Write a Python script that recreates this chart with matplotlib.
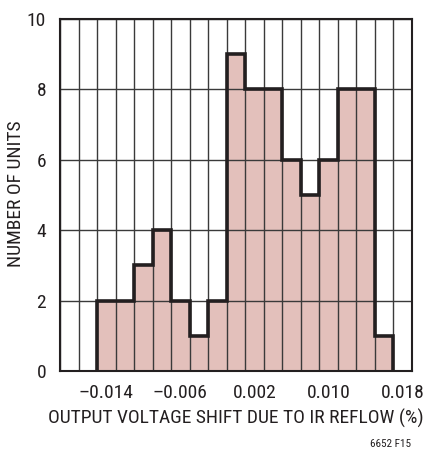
import matplotlib
matplotlib.use("Agg")
import matplotlib.pyplot as plt
import numpy as np
from matplotlib import font_manager

names = {f.name for f in font_manager.fontManager.ttflist}
cands = ["Roboto Condensed", "Liberation Sans Narrow", "Archivo Narrow", "PT Sans Narrow", "Liberation Sans"]
fams = [c for c in cands if c in names] + ["DejaVu Sans"]
plt.rcParams['font.family'] = fams

bin_centers = [-0.018, -0.016, -0.014, -0.012, -0.010, -0.008, -0.006, -0.004, -0.002,
               0.000, 0.002, 0.004, 0.006, 0.008, 0.010, 0.012, 0.014, 0.016, 0.018]
counts = [0, 0, 2, 2, 3, 4, 2, 1, 2, 9, 8, 8, 6, 5, 6, 8, 8, 1, 0]
xtick_values = [-0.014, -0.006, 0.002, 0.010, 0.018]
xtick_labels = ["\u20130.014", "\u20130.006", "0.002", "0.010", "0.018"]
ytick_values = [0, 2, 4, 6, 8, 10]

W = 0.002
ink = "#231f20"
fig = plt.figure(figsize=(4.24, 4.49), dpi=100)
ax = fig.add_axes([60/424, 78/449, 352/424, 352/449])

centers = np.array(bin_centers)
cnt = np.array(counts)
ax.bar(centers, cnt, width=W, color="#e3c0bb", edgecolor="none", zorder=1)

edges = np.concatenate([centers - W/2, [centers[-1] + W/2]])
for c in edges:
    ax.axvline(c, color="#3a3a3a", lw=1.0, zorder=2)
for y in ytick_values:
    ax.axhline(y, color="#3a3a3a", lw=1.0, zorder=2)

nz = np.nonzero(cnt)[0]
i0, i1 = nz[0], nz[-1]
xs = [edges[i0]]
ys = [0]
for i in range(i0, i1 + 1):
    xs += [edges[i], edges[i + 1]]
    ys += [cnt[i], cnt[i]]
xs.append(edges[i1 + 1]); ys.append(0)
ax.plot(xs, ys, color=ink, lw=2.6, zorder=4, solid_joinstyle="miter")

ax.set_xlim(edges[0], edges[-1])
ax.set_ylim(0, 10)
ax.set_xticks(xtick_values)
ax.set_xticklabels(xtick_labels)
ax.set_yticks(ytick_values)
ax.tick_params(axis="x", length=0, labelsize=14, colors=ink, pad=9)
ax.tick_params(axis="y", length=0, labelsize=14, colors=ink, pad=10)
for s in ax.spines.values():
    s.set_color(ink)
    s.set_linewidth(1.5)
    s.set_zorder(5)

ax.set_xlabel("OUTPUT VOLTAGE SHIFT DUE TO IR REFLOW (%)", fontsize=14, color=ink, labelpad=5)
fig.text(16/424, 1 - 194/449, "NUMBER OF UNITS", fontsize=14, color=ink,
         rotation=90, ha="center", va="center")
fig.text(391/424, 1 - 444/449, "6652 F15", fontsize=8, ha="center", va="center", color=ink)

fig.savefig("out.png", dpi=100)
